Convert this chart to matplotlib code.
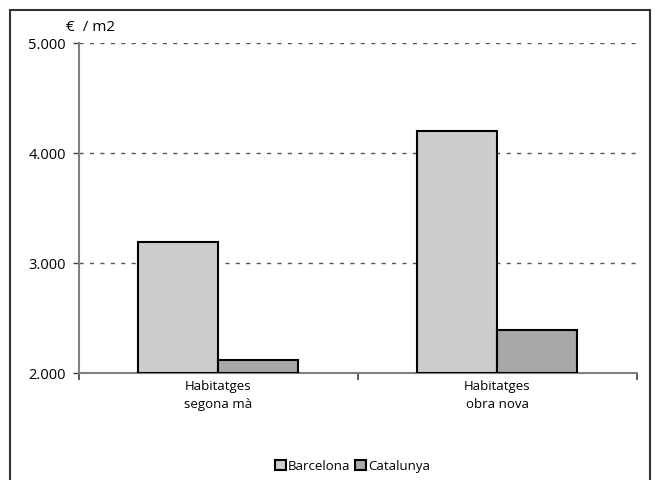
import matplotlib.pyplot as plt
from matplotlib.patches import Rectangle
import numpy as np

plt.rcParams['font.family'] = ['Open Sans', 'DejaVu Sans']

categories = ["Habitatges\nsegona mà", "Habitatges\nobra nova"]
series_names = ["Barcelona", "Catalunya"]
barcelona = [3190, 4200]
catalunya = [2120, 2390]
yticks = [2000, 3000, 4000, 5000]
ytick_labels = ["2.000", "3.000", "4.000", "5.000"]

fig = plt.figure(figsize=(6.59, 4.80), dpi=100)
ax = fig.add_axes([0.1199, 0.2229, 0.8460, 0.6875])

x = np.arange(len(categories))
w = 0.287
ax.bar(x - w / 2, np.array(barcelona) - 2000, w, bottom=2000, color="#cccccc",
       edgecolor="black", linewidth=1.5, label=series_names[0], zorder=3)
ax.bar(x + w / 2, np.array(catalunya) - 2000, w, bottom=2000, color="#a8a8a8",
       edgecolor="black", linewidth=1.5, label=series_names[1], zorder=3)

ax.set_xlim(-0.5, 1.5)
ax.set_ylim(2000, 5000)
ax.set_yticks(yticks)
ax.set_yticklabels(ytick_labels, fontsize=10.5)
ax.set_xticks([-0.5, 0.5, 1.5])
ax.set_xticklabels([])
ax.set_xticks(x, minor=True)
ax.set_xticklabels(categories, minor=True, fontsize=9.5, linespacing=1.55)
ax.tick_params(axis='x', which='minor', length=0, pad=5)
ax.tick_params(axis='x', which='major', length=5, width=1.2, color="#404040", direction='out')
ax.tick_params(axis='y', length=4.5, width=1, color="#404040", direction='out', pad=5)

for v in yticks[1:]:
    ax.axhline(v, color="#555555", linestyle=(0, (3, 4.5)), linewidth=1, zorder=1)

for s in ["top", "right"]:
    ax.spines[s].set_visible(False)
for s in ["left", "bottom"]:
    ax.spines[s].set_color("#808080")
    ax.spines[s].set_linewidth(1.5)

fig.text(0.1, 0.943, "€  / m2", fontsize=11, ha="left", va="center")

leg = fig.legend(loc="center", bbox_to_anchor=(0.535, 0.029), ncol=2, frameon=False,
                 fontsize=9.5, handlelength=0.8, handleheight=0.8, handletextpad=0.15,
                 columnspacing=0.4)

fig.patches.append(Rectangle((0.0152, -0.01), 0.9712, 0.989, transform=fig.transFigure,
                             fill=False, edgecolor="#333333", linewidth=1.5))

fig.savefig("out.png", dpi=100)
